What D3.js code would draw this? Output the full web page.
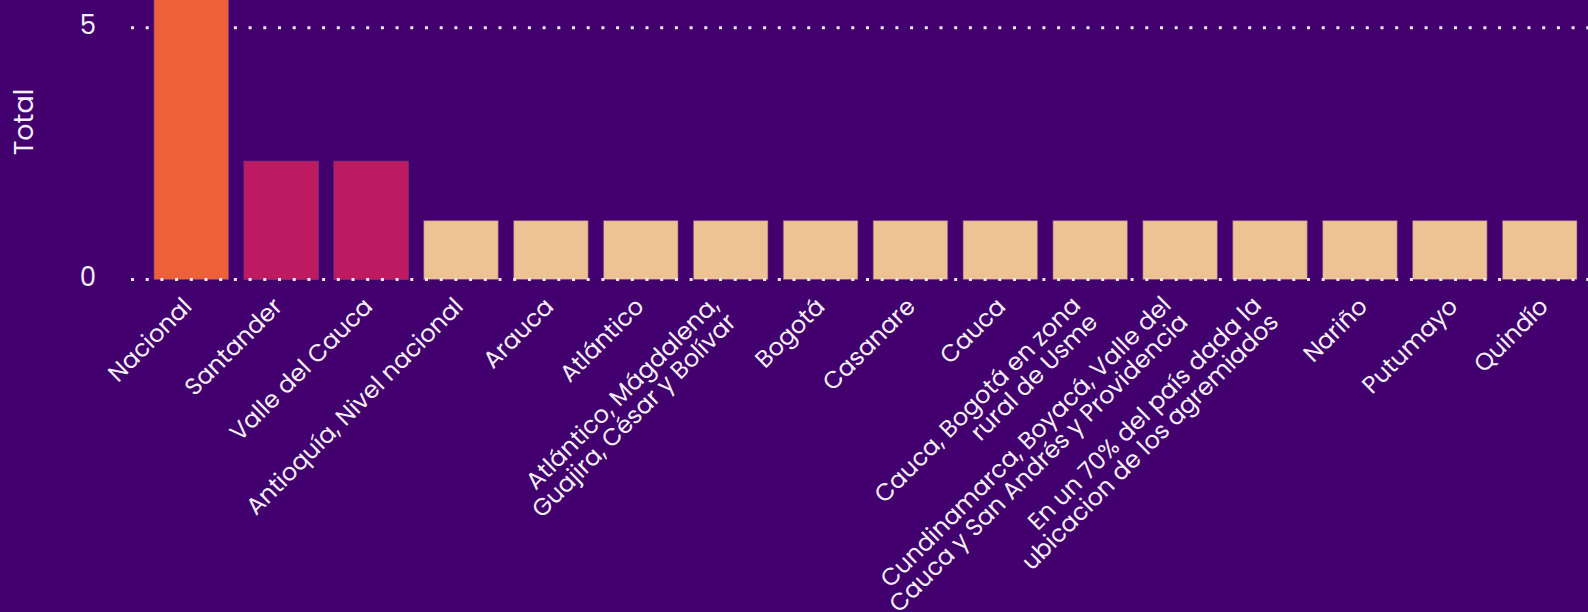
<!DOCTYPE html>
<html>
<head>
<meta charset="utf-8">
<script src="https://cdn.jsdelivr.net/npm/d3@7"></script>
<style>
  html, body { margin: 0; padding: 0; background: #42006f; overflow: hidden; }
  svg { display: block; }
  text { font-family: Poppins, "DejaVu Sans", sans-serif; fill: #f4eef6; }
</style>
</head>
<body>
<div id="chart"></div>
<script>
// categories (line breaks as in the original labels)
var categories = [
    "Nacional",
    "Santander",
    "Valle del Cauca",
    "Antioquía, Nivel nacional",
    "Arauca",
    "Atlántico",
    "Atlántico, Mágdalena,\nGuajira, César y Bolívar",
    "Bogotá",
    "Casanare",
    "Cauca",
    "Cauca, Bogotá en zona\nrural de Usme",
    "Cundinamarca, Boyacá, Valle del\nCauca y San Andrés y Providencia",
    "En un 70% del país dada la\nubicacion de los agremiados",
    "Nariño",
    "Putumayo",
    "Quindío"
];
var totals = [5.85, 2.35, 2.35, 1.17, 1.17, 1.17, 1.17, 1.17, 1.17, 1.17, 1.17, 1.17, 1.17, 1.17, 1.17, 1.17];
var yTicks = [0, 5];
var yTitle = "Total";

width = 1588;
height = 612;
bg = "#42006f";

svg = d3.select("#chart")
    .append("svg")
    .attr("width", width)
    .attr("height", height);

svg.append("rect")
    .attr("width", width)
    .attr("height", height)
    .style("fill", bg);

x = d3.scaleBand()
    .domain(categories)
    .range([154, 1577])
    .paddingInner(0.17)
    .paddingOuter(0);

// labels sit on a slightly wider spread than the bars
xLabel = d3.scalePoint()
    .domain(categories)
    .range([x(categories[0]) + x.bandwidth() / 2 - 4,
            x(categories[categories.length - 1]) + x.bandwidth() / 2 + 4]);

y = d3.scaleLinear()
    .domain([0, 5])
    .range([279.5, 27.7]);

color = d3.scaleThreshold()
    .domain([2, 5])
    .range(["#eec394", "#be1a62", "#ec613a"]);

// dotted grid lines (under the bars)
grid = svg.append("g").attr("class", "grid");
grid.selectAll("line")
    .data(yTicks.filter(function(d) { return d > 0; }))
    .enter().append("line")
    .attr("x1", 131)
    .attr("x2", width)
    .attr("y1", function(d) { return y(d); })
    .attr("y2", function(d) { return y(d); })
    .style("stroke", "#f0e8f4")
    .style("stroke-width", 3)
    .style("stroke-dasharray", "3 11.7");

// bars
svg.append("g").selectAll("rect")
    .data(totals)
    .enter().append("rect")
    .attr("x", function(d, i) { return x(categories[i]); })
    .attr("width", x.bandwidth())
    .attr("y", function(d) { return y(d); })
    .attr("height", function(d) { return y(0) - y(d); })
    .style("fill", function(d) { return color(d); })
    .style("stroke", "#7a3a7e")
    .style("stroke-opacity", 0.6)
    .style("stroke-width", 1);

// baseline dots drawn on top of bars
svg.append("line")
    .attr("x1", 131)
    .attr("x2", width)
    .attr("y1", y(0))
    .attr("y2", y(0))
    .style("stroke", "#f0e8f4")
    .style("stroke-width", 3)
    .style("stroke-dasharray", "3 11.7");

// y tick labels
svg.append("g").selectAll("text")
    .data(yTicks)
    .enter().append("text")
    .attr("x", 96)
    .attr("y", function(d) { return y(d) - 3; })
    .attr("dy", "0.35em")
    .attr("text-anchor", "end")
    .style("font-size", "26px")
    .text(function(d) { return d; });

// y title
svg.append("text")
    .attr("transform", "translate(33,122) rotate(-90)")
    .attr("text-anchor", "middle")
    .style("font-size", "27px")
    .text(yTitle);

// x labels, rotated, multi-line blocks centred on the tick
lineH = 24;
xLabels = svg.append("g").selectAll("text")
    .data(categories)
    .enter().append("text")
    .attr("text-anchor", "end")
    .attr("transform", function(d) {
        return "translate(" + xLabel(d) + "," + 302 + ") rotate(-45)";
    })
    .style("font-size", "24px");

xLabels.each(function(d) {
    var lines = d.split("\n");
    var t = d3.select(this);
    lines.forEach(function(l, j) {
        t.append("tspan")
            .attr("x", lines.length > 1 ? -10 : 0)
            .attr("y", (j - (lines.length - 1) / 2) * lineH)
            .attr("dy", "0.35em")
            .text(l);
    });
});
</script>
</body>
</html>
